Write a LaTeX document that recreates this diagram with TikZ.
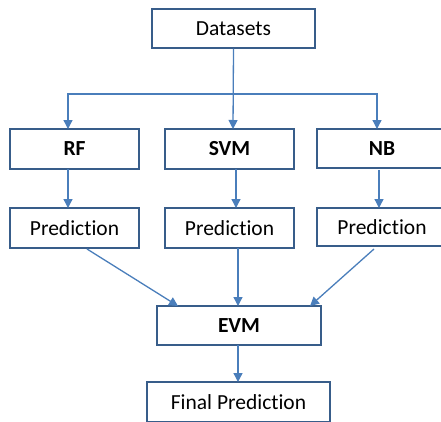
\documentclass[tikz,border=0pt]{standalone}
\usepackage{fontspec}
\setmainfont{Carlito}[Ligatures={NoCommon}]
\usetikzlibrary{arrows.meta}
\definecolor{boxline}{HTML}{385D8A}
\definecolor{arrline}{HTML}{4A7EBB}
\begin{document}
\begin{tikzpicture}[x=1pt,y=-1pt,
  box/.style={draw=boxline,line width=1.3pt,fill=white,inner sep=0pt,font=\fontsize{21.5}{25}\selectfont},
  bbox/.style={box,font=\fontsize{21.5}{25}\selectfont\bfseries},
  arr/.style={draw=arrline,line width=1.3pt,-{Triangle[length=9pt,width=9pt]}}]
\useasboundingbox (0,0) rectangle (441,421);
\node[box,minimum width=163pt,minimum height=39pt] (ds) at (233.5,28.5) {Datasets};
\node[bbox,minimum width=129pt,minimum height=40pt] (rf) at (74.5,149) {RF};
\node[bbox,minimum width=129pt,minimum height=40pt] (svm) at (229.5,149) {SVM};
\node[bbox,minimum width=130pt,minimum height=39pt] (nb) at (382,148.5) {NB};
\node[box,minimum width=129pt,minimum height=40pt] (p1) at (74.5,228) {Prediction};
\node[box,minimum width=129pt,minimum height=40pt] (p2) at (229.5,228) {Prediction};
\node[box,minimum width=130pt,minimum height=38pt] (p3) at (382,227) {Prediction};
\node[bbox,minimum width=164pt,minimum height=39pt] (evm) at (239,325.5) {EVM};
\node[box,minimum width=183pt,minimum height=40pt] (fp) at (238.5,402) {Final Prediction};
\coordinate (j) at (233,94);
\draw[arr] (ds.south) -- (233,129);
\draw[arr] (j) -- (68,94) -- (68,129);
\draw[arr] (j) -- (377,94) -- (377,129);
\draw[arr] (68,169) -- (68,208);
\draw[arr] (236,169) -- (236,208);
\draw[arr] (379,170) -- (379,208);
\draw[arr] (87,249) -- (178,306);
\draw[arr] (238,248) -- (238,306);
\draw[arr] (374,249) -- (310,306);
\draw[arr] (238,345) -- (238,382);
\end{tikzpicture}
\end{document}
